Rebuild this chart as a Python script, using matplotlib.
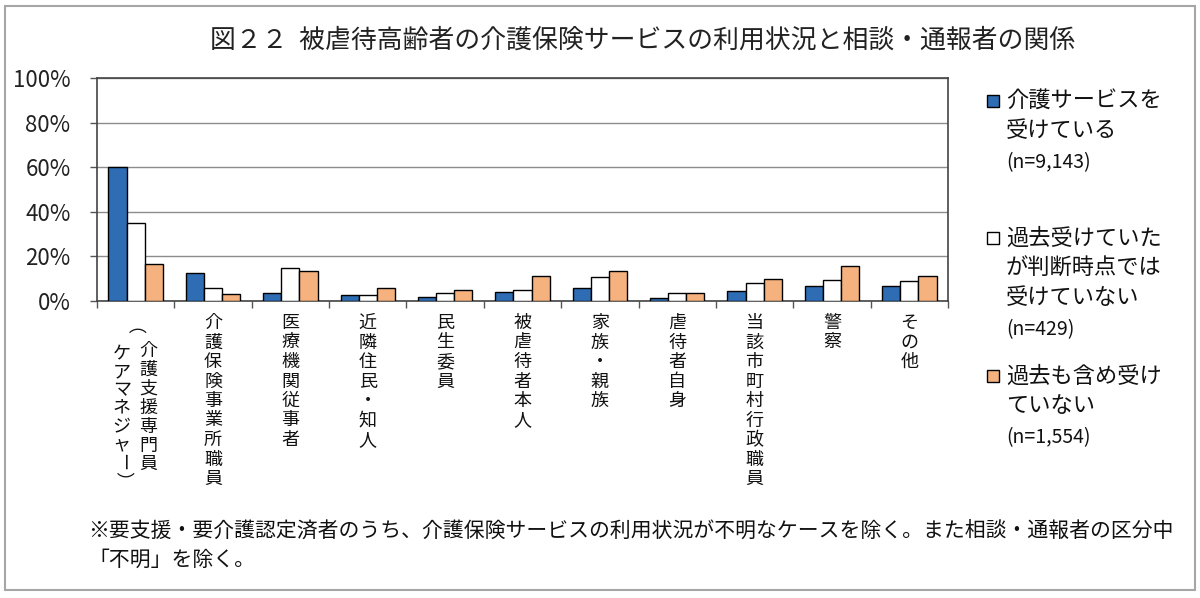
import numpy as np
import matplotlib
matplotlib.use('Agg')
import matplotlib.pyplot as plt
from matplotlib.patches import Rectangle
from matplotlib.transforms import blended_transform_factory

plt.rcParams['font.family'] = ['Noto Sans CJK JP', 'DejaVu Sans']

categories = ['介護支援専門員', '介護保険事業所職員', '医療機関従事者', '近隣住民・知人', '民生委員',
              '被虐待者本人', '家族・親族', '虐待者自身', '当該市町村行政職員', '警察', 'その他']
sub_label = '（ケアマネジャー）'

receiving = [60.0, 12.6, 3.6, 2.5, 1.7, 4.0, 6.0, 1.3, 4.5, 6.6, 6.6]
past_only = [35.2, 5.7, 15.0, 2.5, 3.7, 4.9, 10.9, 3.7, 8.0, 9.6, 9.0]
never = [16.8, 3.0, 13.3, 6.0, 5.1, 11.2, 13.3, 3.7, 9.8, 15.9, 11.4]

series_labels = [['介護サービスを', '受けている', '(n=9,143)'],
                 ['過去受けていた', 'が判断時点では', '受けていない', '(n=429)'],
                 ['過去も含め受け', 'ていない', '(n=1,554)']]
colors = ['#2E6DB4', '#FFFFFF', '#F6B27E']

title = '図２２  被虐待高齢者の介護保険サービスの利用状況と相談・通報者の関係'
note = ('※要支援・要介護認定済者のうち、介護保険サービスの利用状況が不明なケースを除く。また相談・通報者の区分中\n'
        '「不明」を除く。')

W, H = 1200, 598
fig = plt.figure(figsize=(W / 100, H / 100), dpi=100)
ax = fig.add_axes([97 / W, 1 - 301 / H, (948 - 97) / W, (301 - 78) / H])

x = np.arange(len(categories))
bw = 0.235
for k, (vals, col) in enumerate(zip([receiving, past_only, never], colors)):
    ax.bar(x + (k - 1) * bw, vals, bw, color=col, edgecolor='black', linewidth=1.0, zorder=3)

ax.set_xlim(-0.5, len(categories) - 0.5)
ax.set_ylim(0, 100)
ax.set_yticks(range(0, 101, 20))
ax.set_yticklabels([f'{v}%' for v in range(0, 101, 20)], fontsize=16, color='#222222')
ax.set_xticks(np.arange(-0.5, len(categories), 1.0))
ax.set_xticklabels([])
ax.tick_params(axis='both', direction='out', length=5, color='#555555', width=1)
ax.tick_params(axis='y', pad=14)
ax.grid(axis='y', color='#8c8c8c', linewidth=1.0, zorder=0)
for s in ax.spines.values():
    s.set_color('#444444')
    s.set_linewidth(1.2)

# vertical category labels, one character per line
tr = blended_transform_factory(ax.transData, fig.transFigure)
rotated = set('（）ー')


def vertical(xpos, text, top_px, step):
    for i, ch in enumerate(text):
        ypx = top_px + step * i + 8
        ax.text(xpos, 1 - ypx / H, ch, transform=tr, ha='center', va='center',
                fontsize=13, rotation=-90 if ch in rotated else 0, color='#111111')


step = 19.5
vertical(x[0] + 0.16, categories[0], 343, 18.9)
vertical(x[0] - 0.18, sub_label, 328, 18.0)
for i in range(1, len(categories)):
    vertical(x[i], categories[i], 315, step)

fig.text(643 / W, 1 - 40 / H, title, ha='center', va='center', fontsize=18.6, color='#222222')
fig.text(88 / W, 1 - 545 / H, note, ha='left', va='center', fontsize=15,
         linespacing=1.4, color='#111111')

# legend
leg_rows = [101, 238, 376]
for lab, col, y0 in zip(series_labels, colors, leg_rows):
    fig.patches.append(Rectangle((987 / W, 1 - (y0 + 6) / H), 12 / W, 12 / H,
                                 transform=fig.transFigure, facecolor=col,
                                 edgecolor='black', linewidth=1))
    for j, line in enumerate(lab):
        is_n = line.startswith('(')
        fig.text(1006 / W, 1 - (y0 + 30 * j + (2 if is_n else 0)) / H, line,
                 ha='left', va='center', fontsize=14 if is_n else 16, color='#111111')

fig.patches.append(Rectangle((5 / W, 8 / H), (W - 10) / W, (H - 14) / H,
                             transform=fig.transFigure, fill=False,
                             edgecolor='#a6a6a6', linewidth=1.5))

fig.savefig('out.png', dpi=100)
